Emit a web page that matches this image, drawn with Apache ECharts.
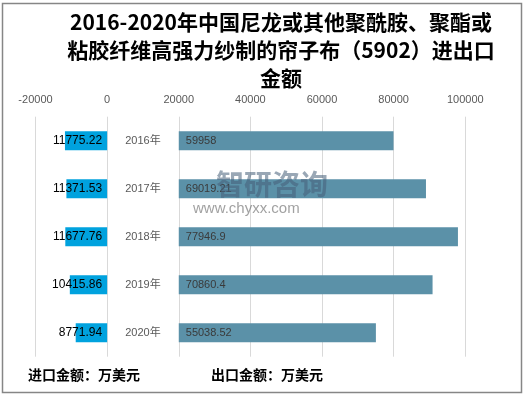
<!DOCTYPE html>
<html>
<head>
<meta charset="utf-8">
<script src="https://cdn.jsdelivr.net/npm/echarts@6/dist/echarts.min.js"></script>
<style>
html,body{margin:0;padding:0;background:#fff;}
#main{width:524px;height:396px;}
</style>
</head>
<body>
<div id="main"></div>
<script>
var categories = ['2016年', '2017年', '2018年', '2019年', '2020年'];
var importValues = [11775.22, 11371.53, 11677.76, 10415.86, 8771.94];
var exportValues = [59958, 69019.21, 77946.9, 70860.4, 55038.52];
var offsetValue = 20000;
var xTicks = { min: -20000, max: 100000, interval: 20000 };

var chart = echarts.init(document.getElementById('main'));
var font = '"Liberation Sans", Arial, "Noto Sans CJK SC", sans-serif';
var cjk = '"Noto Sans CJK SC", sans-serif';

chart.setOption({
  animation: false,
  backgroundColor: '#fff',
  title: [
    {
      text: '2016-2020年中国尼龙或其他聚酰胺、聚酯或\n粘胶纤维高强力纱制的帘子布（5902）进出口\n金额',
      left: 281, top: 8, textAlign: 'center', padding: 0,
      textStyle: { fontFamily: cjk, fontSize: 21, fontWeight: 'bold', color: '#000', lineHeight: 28 }
    },
    {
      text: '进口金额：万美元', left: 28, top: 368, padding: 0,
      textStyle: { fontFamily: cjk, fontSize: 14, fontWeight: 'bold', color: '#000' }
    },
    {
      text: '出口金额：万美元', left: 211, top: 368, padding: 0,
      textStyle: { fontFamily: cjk, fontSize: 14, fontWeight: 'bold', color: '#000' }
    }
  ],
  graphic: [
    { type: 'rect', shape: { x: 2.5, y: 3.5, width: 519, height: 389 }, style: { fill: 'none', stroke: '#868686', lineWidth: 1.5 }, silent: true, z: 100 },
    { type: 'text', left: 216, top: 170, style: { text: '智研咨询', font: 'bold 28px ' + cjk, fill: 'rgba(70,95,120,0.55)' }, z: 50 },
    { type: 'text', left: 193, top: 201, style: { text: 'www.chyxx.com', font: '15px ' + font, fill: 'rgba(110,110,110,0.65)', letterSpacing: 3.5 }, z: 50 }
  ],
  grid: { left: 35.5, right: 58.7, top: 116.7, bottom: 39.3, containLabel: false },
  xAxis: {
    type: 'value', position: 'top',
    min: xTicks.min, max: xTicks.max, interval: xTicks.interval,
    axisLine: { show: false }, axisTick: { show: false },
    axisLabel: { color: '#595959', fontSize: 11, fontFamily: font, margin: 11, formatter: function (v) { return String(v); } },
    splitLine: { show: true, lineStyle: { color: '#d9d9d9', width: 1 } }
  },
  yAxis: {
    type: 'category', data: categories, inverse: true,
    axisLine: { show: false }, axisTick: { show: false }, axisLabel: { show: false },
    splitLine: { show: false }
  },
  series: [
    {
      name: '进口金额', type: 'bar', stack: 'total', barWidth: 19,
      data: importValues.map(function (v) { return -v; }),
      itemStyle: { color: '#00A2DE' },
      label: {
        show: true, position: 'insideRight', distance: 5,
        color: '#000', fontSize: 12, fontFamily: font,
        formatter: function (p) { return String(importValues[p.dataIndex]); }
      }
    },
    {
      name: '占位', type: 'bar', stack: 'total', barWidth: 19,
      data: categories.map(function () { return offsetValue; }),
      itemStyle: { color: 'rgba(0,0,0,0)' },
      label: { show: true, position: 'inside', formatter: '{b}', color: '#595959', fontSize: 11, fontFamily: font },
      silent: true
    },
    {
      name: '出口金额', type: 'bar', stack: 'total', barWidth: 19,
      data: exportValues,
      itemStyle: { color: '#5B91A8' },
      label: { show: true, position: 'insideLeft', distance: 7, color: '#3a3a3a', fontSize: 11, fontFamily: font }
    }
  ]
});
</script>
</body>
</html>
